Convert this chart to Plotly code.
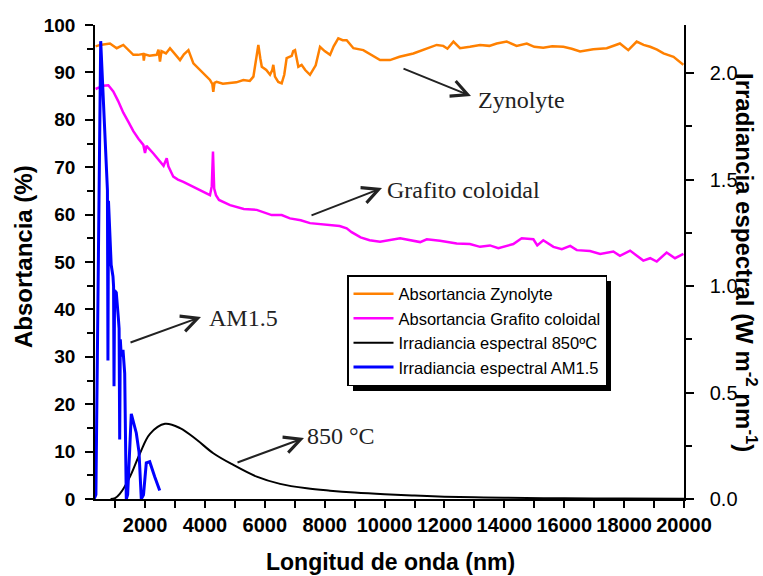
import plotly.graph_objects as go

# ---------------- data ----------------
zynolyte_nm = [350, 500, 830, 1055, 1275, 1450, 1610, 1765, 1940, 1960,
               1990, 2150, 2390, 2450, 2500, 2550, 2700, 2835, 3000, 3170,
               3300, 3450, 3615, 3800, 3950, 4170, 4250, 4280, 4320, 4390,
               4600, 4840, 5050, 5285, 5500, 5620, 5700, 5785, 5850, 5900,
               6050, 6175, 6250, 6285, 6320, 6340, 6450, 6565, 6650, 6730,
               6900, 6950, 7010, 7060, 7120, 7230, 7350, 7510, 7700, 7845,
               8000, 8180, 8300, 8455, 8600, 8735, 8960, 9290, 9600, 9850,
               10180, 10500, 10960, 11400, 11740, 11960, 12100, 12300, 12520, 12850,
               13190, 13500, 13745, 14080, 14410, 14750, 15000, 15300, 15600, 15970,
               16250, 16530, 16970, 17420, 17650, 17860, 18140, 18420, 18650, 18870,
               19100, 19315, 19650, 19980]
zynolyte_abs = [95.5, 95.8, 96.1, 95.1, 95.8, 94.8, 93.7, 93.7, 93.9, 92.5,
                93.8, 93.5, 93.7, 94.8, 92.3, 94.5, 94.0, 95.1, 93.8, 92.6,
                93.8, 94.7, 91.9, 90.8, 89.8, 88.4, 87.5, 85.9, 87.8, 88.0,
                87.6, 87.7, 87.9, 88.4, 88.2, 89.1, 92.0, 95.8, 93.0, 91.2,
                90.5, 89.5, 90.5, 91.6, 90.0, 89.1, 88.0, 87.7, 89.5, 93.0,
                93.5, 94.5, 94.7, 93.0, 91.2, 91.6, 90.5, 89.5, 91.5, 95.4,
                94.5, 93.7, 95.5, 97.2, 96.8, 96.8, 95.1, 94.7, 93.5, 92.6,
                92.6, 93.3, 94.0, 95.0, 95.8, 95.6, 95.0, 96.5, 95.1, 95.4,
                95.8, 95.6, 96.1, 96.5, 95.6, 96.1, 95.4, 95.2, 95.5, 95.4,
                95.0, 94.4, 94.9, 95.1, 95.6, 96.1, 94.7, 96.5, 95.8, 95.4,
                94.8, 94.0, 93.3, 91.6]

grafito_nm = [350, 450, 607, 775, 940, 1100, 1275, 1450, 1610, 1780,
              1945, 2000, 2050, 2280, 2450, 2560, 2620, 2725, 2780, 2945,
              3100, 3280, 3500, 3725, 3950, 4170, 4230, 4270, 4310, 4370,
              4470, 4840, 5300, 5730, 6230, 6565, 6840, 7200, 7510, 7850,
              8180, 8500, 8735, 8900, 9200, 9500, 9850, 10200, 10520, 11190,
              11410, 11850, 12410, 12850, 13190, 13520, 13800, 14300, 14580, 14970,
              15100, 15300, 15640, 15920, 16200, 16420, 16860, 17200, 17640, 17860,
              18200, 18640, 18870, 19090, 19420, 19700, 19980]
grafito_abs = [86.5, 86.8, 87.2, 87.3, 86.0, 84.0, 81.5, 79.5, 77.6, 76.0,
               74.7, 73.0, 74.5, 72.9, 71.5, 70.8, 70.3, 71.9, 70.2, 68.0,
               67.4, 66.9, 66.2, 65.5, 64.8, 64.1, 66.0, 73.3, 65.5, 64.1,
               63.1, 62.0, 61.2, 61.0, 59.9, 59.9, 59.2, 58.8, 58.2, 58.0,
               57.8, 57.6, 57.1, 56.3, 55.2, 54.6, 54.3, 54.6, 55.0, 54.2,
               54.8, 54.5, 53.9, 53.8, 53.2, 53.5, 52.9, 53.8, 55.0, 54.8,
               53.5, 54.6, 53.2, 52.7, 53.4, 52.5, 52.3, 51.7, 52.2, 51.3,
               52.4, 50.3, 50.8, 50.1, 52.0, 50.8, 51.7]

irr850_nm = [850, 1000, 1165, 1500, 1833, 2167, 2668, 3170, 3727, 4280,
             4950, 5730, 6510, 7400, 8180, 9000, 10000, 11000, 12000, 13000,
             14000, 16000, 18000, 20000]
irr850_val = [0.0, 0.004, 0.025, 0.105, 0.215, 0.306, 0.353, 0.333, 0.278, 0.215,
              0.16, 0.105, 0.071, 0.05, 0.039, 0.03, 0.022, 0.016, 0.011, 0.008,
              0.006, 0.003, 0.002, 0.001]

am15_nm = [300, 360, 520, 700, 745, 762, 780, 870, 930, 950,
           965, 985, 1041, 1110, 1135, 1155, 1175, 1208, 1265, 1322,
           1375, 1420, 1542, 1709, 1800, 1876, 1950, 2043, 2157, 2324,
           2491]
am15_val = [0.0, 0.02, 2.15, 1.55, 1.45, 0.65, 1.40, 1.10, 1.045, 1.0,
            0.53, 0.98, 0.97, 0.85, 0.80, 0.28, 0.75, 0.67, 0.70, 0.59,
            0.0, 0.02, 0.40, 0.31, 0.22, 0.0, 0.02, 0.17, 0.175, 0.105,
            0.04]

series_names = ["Absortancia Zynolyte", "Absortancia Grafito coloidal",
                "Irradiancia espectral 850ºC", "Irradiancia espectral AM1.5"]
x_ticks = [2000, 4000, 6000, 8000, 10000, 12000, 14000, 16000, 18000, 20000]
x_range = [330, 20000]
y_range = [0, 100]
y2_range = [0, 2.226]

# ---------------- figure ----------------
W, H = 763, 576
L, R, T, B = 95, 79, 25, 77
pw, ph = W - L - R, H - T - B

SANS = "Liberation Sans, Arial, sans-serif"
SERIF = "Liberation Serif, Times New Roman, serif"

fig = go.Figure()
fig.add_trace(go.Scatter(x=zynolyte_nm, y=zynolyte_abs, mode="lines", name=series_names[0],
                         line=dict(color="#FF8000", width=2.5), xaxis="x", yaxis="y"))
fig.add_trace(go.Scatter(x=grafito_nm, y=grafito_abs, mode="lines", name=series_names[1],
                         line=dict(color="#FF00FF", width=2.5), xaxis="x", yaxis="y"))
fig.add_trace(go.Scatter(x=irr850_nm, y=irr850_val, mode="lines", name=series_names[2],
                         line=dict(color="black", width=2, shape="spline"), xaxis="x", yaxis="y2"))
fig.add_trace(go.Scatter(x=am15_nm, y=am15_val, mode="lines", name=series_names[3],
                         line=dict(color="#0000FF", width=3), xaxis="x", yaxis="y2"))

axis_line = dict(showline=True, linecolor="black", linewidth=1.5, showgrid=False,
                 zeroline=False, automargin=False)

fig.update_layout(
    width=W, height=H,
    margin=dict(l=L, r=R, t=T, b=B),
    paper_bgcolor="white", plot_bgcolor="white",
    xaxis=dict(range=x_range, tickvals=x_ticks, tickformat="d", ticks="outside", ticklen=7,
               tickwidth=1.5, tickcolor="black",
               minor=dict(tick0=0, dtick=1000, ticks="outside", ticklen=7, tickwidth=1.5, tickcolor="black"),
               tickfont=dict(family=SANS, size=20, color="black", weight="bold"),
               ticklabelstandoff=0, **axis_line),
    xaxis2=dict(range=x_range, overlaying="x", side="top", anchor="y", tick0=0, dtick=1000,
                ticks="inside", ticklen=8, tickwidth=1.5, tickcolor="black",
                showticklabels=False, **axis_line),
    yaxis=dict(range=y_range, tick0=0, dtick=10, ticks="outside", ticklen=8, tickwidth=1.5,
               tickcolor="black",
               minor=dict(tick0=0, dtick=5, ticks="outside", ticklen=6, tickwidth=1.5, tickcolor="black"),
               tickfont=dict(family=SANS, size=19, color="black", weight="bold"),
               ticklabelstandoff=6, **axis_line),
    yaxis2=dict(range=y2_range, overlaying="y", side="right", anchor="x", tick0=0, dtick=0.5,
                tickformat=".1f", ticks="outside", ticklen=8, tickwidth=1.5, tickcolor="black",
                minor=dict(tick0=0, dtick=0.25, ticks="outside", ticklen=6, tickwidth=1.5, tickcolor="black"),
                tickfont=dict(family=SANS, size=20, color="black"),
                ticklabelstandoff=12, **axis_line),
    legend=dict(x=(347 - L) / pw, y=(H - B - 275) / ph, xanchor="left", yanchor="top",
                bgcolor="white", bordercolor="black", borderwidth=1.5,
                font=dict(family=SANS, size=16.5, color="black"),
                tracegroupgap=0, itemwidth=40),
    showlegend=True,
)

# legend drop shadow
fig.add_shape(type="rect", xref="paper", yref="paper", layer="above",
              x0=(353 - L) / pw, x1=(611 - L) / pw,
              y0=(H - B - 391) / ph, y1=(H - B - 281) / ph,
              fillcolor="black", line=dict(width=0))

# axis titles
fig.add_annotation(text="<b>Longitud de onda (nm)</b>", xref="paper", yref="paper",
                   x=(390 - L) / pw, y=(H - B - 562) / ph, showarrow=False,
                   xanchor="center", yanchor="middle",
                   font=dict(family=SANS, size=23, color="black"))
fig.add_annotation(text="<b>Absortancia (%)</b>", xref="paper", yref="paper",
                   x=(23 - L) / pw, y=(H - B - 257) / ph, showarrow=False, textangle=-90,
                   xanchor="center", yanchor="middle",
                   font=dict(family=SANS, size=24, color="black"))
fig.add_annotation(text="<b>Irradiancia espectral (W m<sup>-2</sup> nm<sup>-1</sup>)</b>",
                   xref="paper", yref="paper",
                   x=(746 - L) / pw, y=(H - B - 262) / ph, showarrow=False, textangle=90,
                   xanchor="center", yanchor="middle",
                   font=dict(family=SANS, size=24, color="black"))

# arrows and labels (head position in data coords, tail offset in px)
def px_to_data(px, py):
    xd = x_range[0] + (px - L) / pw * (x_range[1] - x_range[0])
    yd = y_range[0] + (H - B - py) / ph * (y_range[1] - y_range[0])
    return xd, yd

arrows = [((471, 96), (402, 68)), ((382, 188), (310, 216)),
          ((201, 317), (129, 343)), ((304, 438), (236, 463))]
for head, tail in arrows:
    hx, hy = px_to_data(*head)
    fig.add_annotation(x=hx, y=hy, xref="x", yref="y", text="", showarrow=True,
                       ax=tail[0] - head[0], ay=tail[1] - head[1],
                       arrowhead=5, arrowsize=1.6, arrowwidth=2, arrowcolor="#222222")

labels = [("Zynolyte", 476, 100), ("Grafito coloidal", 385, 190),
          ("AM1.5", 207, 318), ("850 °C", 305, 436)]
for txt, lx, ly in labels:
    xd, yd = px_to_data(lx, ly)
    fig.add_annotation(x=xd, y=yd, xref="x", yref="y", text=txt, showarrow=False,
                       xanchor="left", yanchor="middle",
                       font=dict(family=SERIF, size=24, color="#222222"))

fig.write_html("out.html", config={"displayModeBar": False},
               post_script="document.body.style.margin='0px';")
